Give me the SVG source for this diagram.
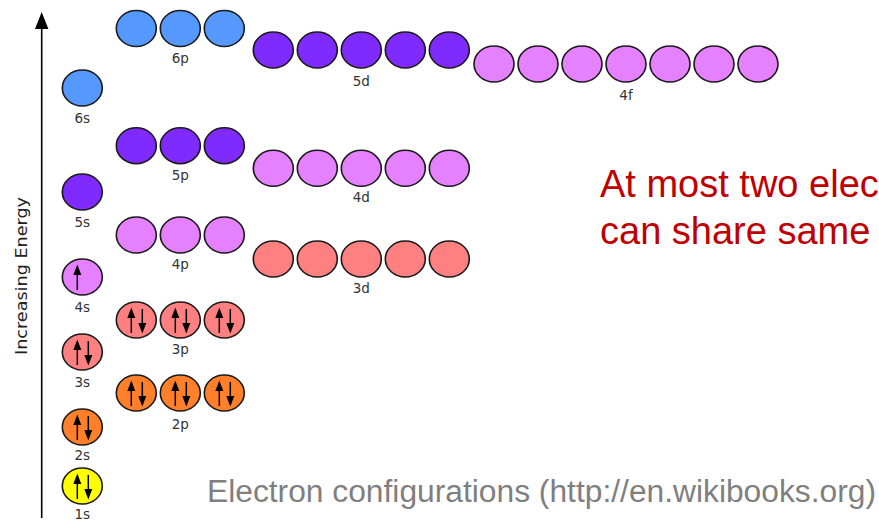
<svg xmlns="http://www.w3.org/2000/svg" xmlns:xlink="http://www.w3.org/1999/xlink" width="879" height="521" viewBox="0 0 879 521">
<style>
.orb ellipse{stroke:#1a1a1a;stroke-width:1.6}
.lbl{font-family:"DejaVu Sans",sans-serif;font-size:13.5px;fill:#333;text-anchor:middle}
.b{fill:#5599ff}.v{fill:#7f2aff}.k{fill:#e580ff}.r{fill:#ff8080}.o{fill:#ff7f2a}.y{fill:#ffff00}
.ax{stroke:#000;stroke-width:1.6;fill:none}
</style>
<defs>
<g id="up"><line x1="-5" y1="13" x2="-5" y2="-4" stroke="#000" stroke-width="1.5"/><polygon points="-5,-12.5 -9,-2 -1,-2" fill="#000"/></g>
<g id="dn"><line x1="6" y1="-11" x2="6" y2="4" stroke="#000" stroke-width="1.5"/><polygon points="6,13.5 2,3 10,3" fill="#000"/></g>
<g id="pair"><use xlink:href="#up"/><use xlink:href="#dn"/></g>
</defs>
<rect width="879" height="521" fill="#fff"/>
<g id="axis">
<line class="ax" x1="41.7" y1="26" x2="41.7" y2="518"/>
<polygon points="41.7,12 35,29 48.4,29" fill="#000"/>
<text transform="translate(27,276) rotate(-90)" font-family="DejaVu Sans, sans-serif" font-size="16" fill="#222" text-anchor="middle" textLength="158" lengthAdjust="spacingAndGlyphs">Increasing Energy</text>
</g>
<g id="connectors"></g>
<g id="o6s" class="orb"><ellipse class="b" cx="82.3" cy="88" rx="20" ry="18"/><text class="lbl" x="82.3" y="122.5">6s</text></g>
<g id="o5s" class="orb"><ellipse class="v" cx="82.3" cy="192" rx="20" ry="18"/><text class="lbl" x="82.3" y="226.5">5s</text></g>
<g id="o4s" class="orb"><ellipse class="k" cx="82.3" cy="277" rx="20" ry="18"/><use xlink:href="#up" x="82.3" y="277"/><text class="lbl" x="82.3" y="311.5">4s</text></g>
<g id="o3s" class="orb"><ellipse class="r" cx="82.3" cy="352" rx="20" ry="18"/><use xlink:href="#pair" x="82.3" y="352"/><text class="lbl" x="82.3" y="386.5">3s</text></g>
<g id="o2s" class="orb"><ellipse class="o" cx="82.3" cy="427" rx="20" ry="18"/><use xlink:href="#pair" x="82.3" y="427"/><text class="lbl" x="82.3" y="459.5">2s</text></g>
<g id="o1s" class="orb"><ellipse class="y" cx="82.3" cy="486" rx="20" ry="18"/><use xlink:href="#pair" x="82.3" y="486"/><text class="lbl" x="82.3" y="519">1s</text></g>
<g id="o6p" class="orb"><ellipse class="b" cx="136.3" cy="28.5" rx="20" ry="18"/><ellipse class="b" cx="180.3" cy="28.5" rx="20" ry="18"/><ellipse class="b" cx="224.3" cy="28.5" rx="20" ry="18"/><text class="lbl" x="180.3" y="62.5">6p</text></g>
<g id="o5p" class="orb"><ellipse class="v" cx="136.3" cy="145.7" rx="20" ry="18"/><ellipse class="v" cx="180.3" cy="145.7" rx="20" ry="18"/><ellipse class="v" cx="224.3" cy="145.7" rx="20" ry="18"/><text class="lbl" x="180.3" y="179.5">5p</text></g>
<g id="o4p" class="orb"><ellipse class="k" cx="136.3" cy="235" rx="20" ry="18"/><ellipse class="k" cx="180.3" cy="235" rx="20" ry="18"/><ellipse class="k" cx="224.3" cy="235" rx="20" ry="18"/><text class="lbl" x="180.3" y="268.5">4p</text></g>
<g id="o3p" class="orb"><ellipse class="r" cx="136.3" cy="320" rx="20" ry="18"/><ellipse class="r" cx="180.3" cy="320" rx="20" ry="18"/><ellipse class="r" cx="224.3" cy="320" rx="20" ry="18"/><use xlink:href="#pair" x="136.3" y="320"/><use xlink:href="#pair" x="180.3" y="320"/><use xlink:href="#pair" x="224.3" y="320"/><text class="lbl" x="180.3" y="353.5">3p</text></g>
<g id="o2p" class="orb"><ellipse class="o" cx="136.3" cy="393" rx="20" ry="18"/><ellipse class="o" cx="180.3" cy="393" rx="20" ry="18"/><ellipse class="o" cx="224.3" cy="393" rx="20" ry="18"/><use xlink:href="#pair" x="136.3" y="393"/><use xlink:href="#pair" x="180.3" y="393"/><use xlink:href="#pair" x="224.3" y="393"/><text class="lbl" x="180.3" y="428.5">2p</text></g>
<g id="o5d" class="orb"><ellipse class="v" cx="273.3" cy="50" rx="20" ry="18"/><ellipse class="v" cx="317.3" cy="50" rx="20" ry="18"/><ellipse class="v" cx="361.3" cy="50" rx="20" ry="18"/><ellipse class="v" cx="405.3" cy="50" rx="20" ry="18"/><ellipse class="v" cx="449.3" cy="50" rx="20" ry="18"/><text class="lbl" x="361.3" y="85.5">5d</text></g>
<g id="o4d" class="orb"><ellipse class="k" cx="273.3" cy="168.3" rx="20" ry="18"/><ellipse class="k" cx="317.3" cy="168.3" rx="20" ry="18"/><ellipse class="k" cx="361.3" cy="168.3" rx="20" ry="18"/><ellipse class="k" cx="405.3" cy="168.3" rx="20" ry="18"/><ellipse class="k" cx="449.3" cy="168.3" rx="20" ry="18"/><text class="lbl" x="361.3" y="201.5">4d</text></g>
<g id="o3d" class="orb"><ellipse class="r" cx="273.3" cy="259" rx="20" ry="18"/><ellipse class="r" cx="317.3" cy="259" rx="20" ry="18"/><ellipse class="r" cx="361.3" cy="259" rx="20" ry="18"/><ellipse class="r" cx="405.3" cy="259" rx="20" ry="18"/><ellipse class="r" cx="449.3" cy="259" rx="20" ry="18"/><text class="lbl" x="361.3" y="292.5">3d</text></g>
<g id="o4f" class="orb"><ellipse class="k" cx="494" cy="64" rx="20" ry="18"/><ellipse class="k" cx="538" cy="64" rx="20" ry="18"/><ellipse class="k" cx="582" cy="64" rx="20" ry="18"/><ellipse class="k" cx="626" cy="64" rx="20" ry="18"/><ellipse class="k" cx="670" cy="64" rx="20" ry="18"/><ellipse class="k" cx="714" cy="64" rx="20" ry="18"/><ellipse class="k" cx="758" cy="64" rx="20" ry="18"/><text class="lbl" x="626" y="99.5">4f</text></g>
<g id="note" font-family="Liberation Sans, Arial, sans-serif" font-size="38" fill="#c00000">
<text x="600" y="196.7">At most two elec</text>
<text x="600" y="243.5">can share same</text>
</g>
<g id="caption"><text x="207" y="502" font-family="Liberation Sans, Arial, sans-serif" font-size="31" fill="#7f7f7f" textLength="669" lengthAdjust="spacingAndGlyphs">Electron configurations (http://en.wikibooks.org)</text></g>
</svg>
